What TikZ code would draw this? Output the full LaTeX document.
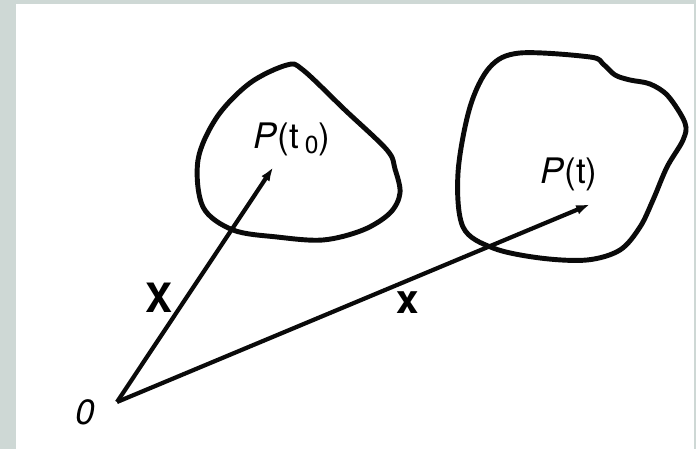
\documentclass[tikz,border=0pt]{standalone}
\usepackage{fontspec}
\setmainfont{TeX Gyre Heros}
\usepackage{xcolor}
\usetikzlibrary{arrows.meta, positioning, calc}
\definecolor{framegray}{RGB}{206, 216, 213}
\definecolor{inkblack}{RGB}{10, 10, 10}

\begin{document}
\begin{tikzpicture}[>={Latex[length=0.45cm, width=0.17cm]},
    blob/.style={line width=2.8pt, inkblack, line join=round},
    vec/.style={->, line width=2.4pt, inkblack},
    lbl/.style={inner sep=1pt, font=\fontsize{20}{24}\selectfont},
    vlbl/.style={inner sep=1pt, font=\fontsize{23}{27}\selectfont\bfseries}]
    % frame
    \fill[framegray] (0,0) rectangle (13.92,8.98);
    \fill[white] (0.32,0) rectangle (13.88,8.90);
    \useasboundingbox (0,0) rectangle (13.92,8.98);
    % the body at t0 and at t
    \draw[blob] plot[smooth cycle, tension=0.55] coordinates {
        (5.74,7.68) (6.06,7.58) (6.90,6.78) (7.74,5.98) (7.90,5.60) (8.00,5.12)
        (7.80,4.72) (7.26,4.38) (6.46,4.18) (5.54,4.24) (4.66,4.38)
        (4.06,4.84) (3.96,5.78) (4.34,6.64) (5.00,7.32)};
    \draw[blob] plot[smooth cycle, tension=0.55] coordinates {
        (10.40,7.92) (11.80,7.84) (12.06,7.70) (12.30,7.48) (12.60,7.38)
        (13.00,7.30) (13.36,7.06) (13.70,6.52) (13.66,6.18) (13.34,5.64)
        (13.06,4.98) (12.80,4.44) (12.40,3.98) (11.74,3.78) (10.80,3.82)
        (9.86,4.02) (9.26,4.44) (9.16,5.52) (9.40,6.84) (9.80,7.64)};
    % points
    \coordinate (orig) at (2.34,0.94);
    \coordinate (pzero) at (5.56,5.78);
    \coordinate (pt) at (11.96,4.96);
    \node[lbl] (olbl) at (1.70,0.74) {\textit{0}};
    \node[lbl] (pzerolbl) at (5.84,6.20) {\textit{P}(t\raisebox{-0.3ex}{\,\fontsize{14}{16}\selectfont 0})};
    \node[lbl] (ptlbl) at (11.38,5.50) {\textit{P}(t)};
    % position vectors
    \draw[vec] (orig) -- (pzero);
    \draw[vec] (orig) -- (pt);
    \node[vlbl] (bigX) at (3.18,3.02) {X};
    \node[vlbl] (smallx) at (8.16,2.92) {x};
\end{tikzpicture}
\end{document}
